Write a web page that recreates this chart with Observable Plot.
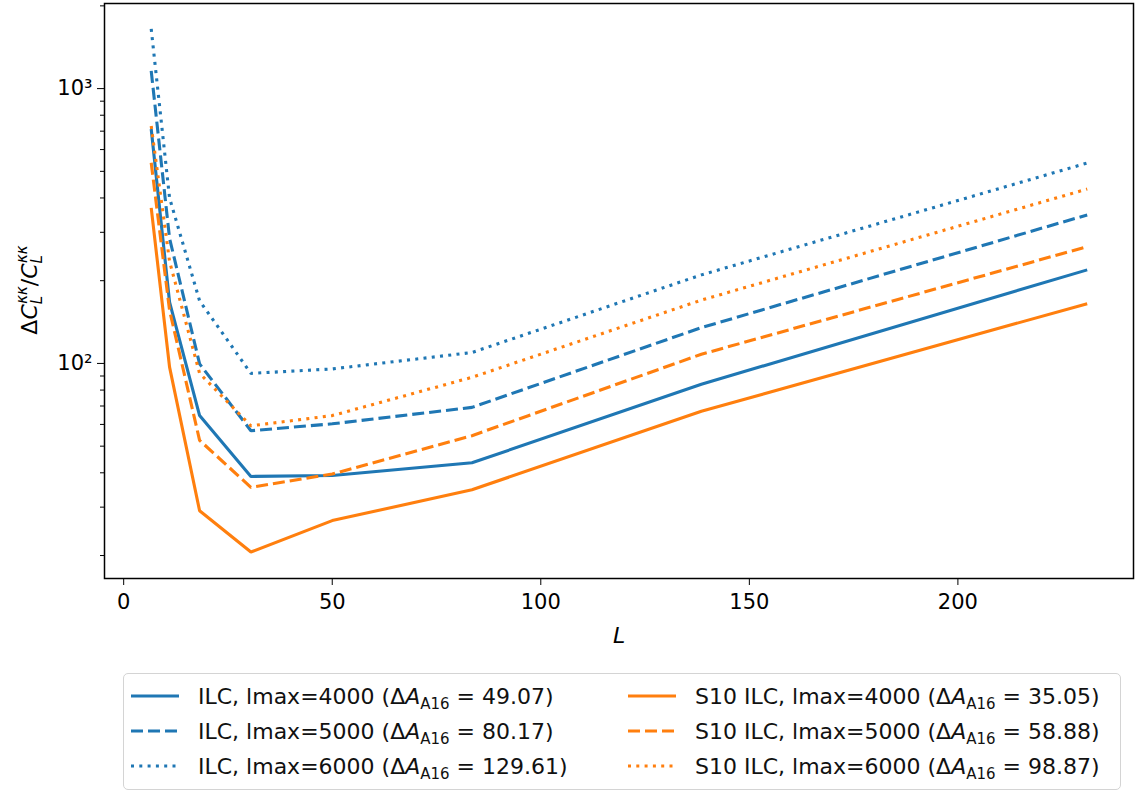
<!DOCTYPE html>
<html><head><meta charset="utf-8">
<script src="https://cdn.jsdelivr.net/npm/d3@7"></script>
<script src="https://cdn.jsdelivr.net/npm/@observablehq/plot@0.6"></script>
<style>
body{margin:0;background:#fff;font-family:"DejaVu Sans",sans-serif;}
#wrap{position:relative;width:1137px;height:792px;overflow:hidden;}
#legend{position:absolute;left:123px;top:673px;width:998px;height:117px;border:1.5px solid #d4d4d4;border-radius:5px;box-sizing:border-box;background:#fff;}
.item{position:absolute;height:30px;display:flex;align-items:center;font-size:22px;color:#111;white-space:nowrap;}
.item svg{margin-right:18px;}
.item sub{font-size:15px;vertical-align:-5px;line-height:0;}
</style></head>
<body><div id="wrap"><div id="chart"></div><div id="legend"></div></div>
<script>
// Data (log-y)
const L = [6.6, 11, 18.2, 30.5, 50, 83.5, 138.5, 231];
const ilc4000 = [713, 167, 64.6, 38.8, 39.1, 43.5, 84, 219];
const ilc5000 = [1160, 285, 99.6, 56.9, 60.3, 69.2, 135, 347];
const ilc6000 = [1650, 400, 169, 92, 95.5, 109.6, 210, 536];
const s10_4000 = [368, 97, 29.1, 20.6, 26.8, 34.7, 67, 165];
const s10_5000 = [537, 156, 52.5, 35.4, 39.6, 54.6, 108, 266];
const s10_6000 = [731, 235, 92, 59.3, 64.6, 89, 170, 431];
const seriesNames = ["ILC, lmax=4000", "ILC, lmax=5000", "ILC, lmax=6000", "S10 ILC, lmax=4000", "S10 ILC, lmax=5000", "S10 ILC, lmax=6000"];
const deltaA = ["49.07", "80.17", "129.61", "35.05", "58.88", "98.87"];
const xTicks = [0, 50, 100, 150, 200];
const yMajor = [100, 1000];
const yMajorLabels = ["10²", "10³"];
const yMinor = [20,30,40,50,60,70,80,90,200,300,400,500,600,700,800,900,2000];

const values = [ilc4000, ilc5000, ilc6000, s10_4000, s10_5000, s10_6000];
const colors = ["#1f77b4","#1f77b4","#1f77b4","#ff7f0e","#ff7f0e","#ff7f0e"];
const dashes = [null, "12,5", "3,5.3", null, "12,5", "3,5.3"];

const lineMarks = values.map((vals, i) => Plot.line(L.map((l, j) => ({L: l, v: vals[j]})), {
  x: "L", y: "v", stroke: colors[i], strokeWidth: 3.1, strokeDasharray: dashes[i], strokeLinejoin: "miter", strokeLinecap: "butt"
}));

const chart = Plot.plot({
  width: 1137, height: 655,
  marginLeft: 104, marginRight: 4, marginTop: 3, marginBottom: 77,
  style: {fontFamily: "DejaVu Sans", fontSize: "21px", color: "#000", background: "#fff"},
  x: {domain: [-4.6, 242.1]},
  y: {type: "log", domain: [16.5, 2040]},
  marks: [
    ...lineMarks,
    Plot.frame({stroke: "#000", strokeWidth: 1.5}),
    Plot.axisX({ticks: xTicks, tickSize: 7, tickPadding: 9, label: null, fontSize: 21, tickFormat: d => String(d)}),
    Plot.axisY({ticks: yMajor, tickSize: 7, tickPadding: 5, label: null, fontSize: 21, tickFormat: d => yMajorLabels[yMajor.indexOf(d)]}),
    Plot.axisY({ticks: yMinor, tickSize: 4, label: null, tickFormat: () => ""}),
    Plot.text(["L"], {frameAnchor: "bottom", dy: 64, text: d => d, fontStyle: "italic", fontSize: 22})
  ]
});
document.getElementById("chart").appendChild(chart);

// y-axis label with sub/superscripts
const svg = d3.select(chart);
const yl = svg.append("text")
  .attr("transform", "translate(37,290) rotate(-90)")
  .attr("text-anchor", "middle")
  .attr("font-family", "DejaVu Sans").attr("font-size", 22).attr("fill", "#000");
yl.append("tspan").text("Δ");
yl.append("tspan").attr("font-style", "italic").text("C");
yl.append("tspan").attr("font-style", "italic").attr("font-size", 15).attr("dy", 5).text("L");
yl.append("tspan").attr("font-style", "italic").attr("font-size", 15).attr("dx", -8).attr("dy", -15).text("κκ");
yl.append("tspan").attr("dy", 10).text("/");
yl.append("tspan").attr("font-style", "italic").text("C");
yl.append("tspan").attr("font-style", "italic").attr("font-size", 15).attr("dy", 5).text("L");
yl.append("tspan").attr("font-style", "italic").attr("font-size", 15).attr("dx", -8).attr("dy", -15).text("κκ");

// legend
const legend = document.getElementById("legend");
const colLeft = [6, 503];
const rowTop = [7, 42, 77];
seriesNames.forEach((name, i) => {
  const col = Math.floor(i / 3), row = i % 3;
  const div = document.createElement("div");
  div.className = "item";
  div.style.left = colLeft[col] + "px";
  div.style.top = rowTop[row] + "px";
  const ns = "http://www.w3.org/2000/svg";
  const s = document.createElementNS(ns, "svg");
  s.setAttribute("width", 50); s.setAttribute("height", 10);
  const ln = document.createElementNS(ns, "line");
  ln.setAttribute("x1", 1); ln.setAttribute("x2", 49); ln.setAttribute("y1", 5); ln.setAttribute("y2", 5);
  ln.setAttribute("stroke", colors[i]); ln.setAttribute("stroke-width", 3.1);
  if (dashes[i]) ln.setAttribute("stroke-dasharray", dashes[i]);
  s.appendChild(ln);
  div.appendChild(s);
  const span = document.createElement("span");
  span.innerHTML = name + " (Δ<i>A</i><sub>A16</sub> = " + deltaA[i] + ")";
  div.appendChild(span);
  legend.appendChild(div);
});
</script></body></html>
